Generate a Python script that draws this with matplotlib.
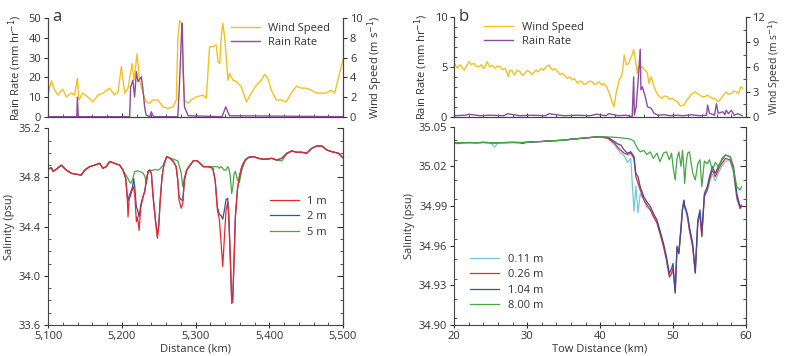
import matplotlib
matplotlib.use("Agg")
import matplotlib.pyplot as plt
from matplotlib.ticker import MultipleLocator, FuncFormatter

plt.rcParams['font.family'] = ['Open Sans', 'DejaVu Sans']
plt.rcParams['font.size'] = 8
TXT = '#333333'
plt.rcParams['text.color'] = TXT
plt.rcParams['axes.labelcolor'] = TXT
plt.rcParams['xtick.color'] = TXT
plt.rcParams['ytick.color'] = TXT
plt.rcParams['axes.edgecolor'] = '#444444'
plt.rcParams['axes.linewidth'] = 0.8

C_WIND = '#F5C11E'
C_RAIN = '#8E4C9F'
C_RED = '#E52A2F'
C_BLUE = '#3D4E9E'
C_GREEN = '#45A844'
C_CYAN = '#72C8DA'

# ---------------- Panel a data ----------------
a_wind_km = [5100, 5104.5, 5109, 5113.6, 5120, 5125, 5131.6, 5136, 5139.8, 5142, 5147, 5154, 5161, 5168,
             5174.6, 5183.6, 5190, 5195, 5199.4, 5204, 5208.5, 5214, 5216.6, 5220.7, 5224, 5228.8, 5233,
             5238, 5242, 5249, 5256, 5262.7, 5269.5, 5274, 5276, 5278.5, 5281, 5283, 5285, 5290, 5294,
             5301, 5310, 5314.7, 5319, 5323.7, 5328, 5330.5, 5332.8, 5335, 5337, 5339.5, 5344, 5346, 5351,
             5355, 5362, 5369, 5375.7, 5382.5, 5389, 5393.8, 5398, 5402.8, 5409.6, 5416, 5423, 5430,
             5436.7, 5443.5, 5450, 5457, 5464, 5470.6, 5477, 5484, 5488.7, 5493, 5500]
a_wind = [2.2, 3.66, 2.7, 2.2, 2.8, 2.0, 2.4, 2.2, 3.9, 1.7, 2.4, 2.0, 1.5, 2.2,
          2.4, 2.9, 2.2, 2.5, 5.1, 2.4, 2.9, 5.4, 3.7, 6.4, 3.7, 2.4, 1.5,
          1.36, 1.7, 1.7, 1.0, 0.85, 1.0, 1.7, 7.8, 9.76, 9.5, 5.1, 1.7, 1.36, 1.7,
          2.0, 2.2, 1.9, 7.1, 7.1, 7.3, 5.6, 5.4, 8.1, 9.5, 8.1, 3.7, 4.4, 3.7,
          3.6, 3.05, 1.5, 2.4, 3.2, 3.7, 4.3, 3.9, 2.7, 1.7, 1.7, 1.5, 2.4,
          3.1, 2.9, 2.9, 2.7, 2.4, 2.4, 2.4, 2.7, 2.4, 3.7, 5.8]

a_rain_km = [5100, 5139, 5139.8, 5141, 5210.7, 5212, 5215, 5217.4, 5219.8, 5222, 5226.6, 5228.8, 5231,
             5233, 5238, 5240, 5243, 5276, 5278.3, 5280.8, 5282, 5283.2, 5285, 5290, 5336, 5341, 5346, 5500]
a_rain = [0, 0, 10, 0, 0, 15, 18.6, 10, 22.9, 17.8, 20.3, 13.5, 5,
          0.8, 0, 2.5, 0, 0, 17, 40.7, 47.5, 25, 5, 0.5, 0, 5, 0.5, 0]

a_sal_km = [5100, 5104.5, 5106.8, 5111.3, 5118, 5124.9, 5131.6, 5138.4, 5145.2, 5149.7, 5156.5, 5163.2, 5170,
            5174.5, 5179, 5183.6, 5190.4, 5197.2, 5201.7, 5205.4, 5207.6, 5208.5, 5209.9, 5212.1, 5214.4,
            5216.2, 5217.6, 5219.8, 5221.2, 5223.5, 5225.8, 5228.9, 5231.2, 5233.4, 5235.7, 5237.9, 5240.2,
            5242.4, 5245.6, 5248.3, 5250.2, 5251.9, 5254.6, 5257.4, 5261, 5265.5, 5270, 5273.7, 5275.9,
            5277.7, 5280.5, 5282.7, 5285, 5288.1, 5292.7, 5297.2, 5301.7, 5306.2, 5310.7, 5317.5, 5323.4,
            5326.6, 5329.7, 5332.4, 5334.7, 5336.9, 5338.7, 5341.4, 5343.7, 5345.1, 5346.9, 5349.1, 5350.5,
            5352.3, 5354.1, 5356.8, 5359.5, 5362.7, 5367.2, 5371.7, 5378.5, 5385.3, 5392.1, 5398.9, 5403.4,
            5410.2, 5417, 5423.7, 5430.5, 5437.3, 5444.1, 5450.8, 5457.6, 5464.4, 5471.2, 5478, 5484.7, 5493.8, 5500]
a_sal_1m = [34.867, 34.880, 34.850, 34.867, 34.900, 34.860, 34.834, 34.826, 34.820, 34.860, 34.888, 34.900, 34.915,
            34.875, 34.888, 34.930, 34.915, 34.900, 34.860, 34.790, 34.617, 34.480, 34.617, 34.660, 34.700,
            34.725, 34.660, 34.440, 34.480, 34.370, 34.560, 34.640, 34.685, 34.780, 34.850, 34.860, 34.830,
            34.640, 34.450, 34.305, 34.400, 34.590, 34.807, 34.915, 34.970, 34.956, 34.930, 34.888, 34.780,
            34.617, 34.550, 34.590, 34.780, 34.860, 34.900, 34.937, 34.937, 34.915, 34.888, 34.888, 34.875,
            34.780, 34.535, 34.455, 34.264, 34.075, 34.264, 34.535, 34.600, 34.480, 34.180, 33.776, 33.790,
            34.130, 34.480, 34.700, 34.807, 34.888, 34.942, 34.964, 34.970, 34.956, 34.948, 34.951, 34.956,
            34.942, 34.956, 34.997, 35.016, 35.005, 35.005, 34.997, 35.037, 35.056, 35.056, 35.024, 35.010, 34.997, 34.960]
a_sal_2m = [34.867, 34.880, 34.850, 34.867, 34.900, 34.860, 34.834, 34.826, 34.820, 34.860, 34.888, 34.900, 34.915,
            34.875, 34.888, 34.930, 34.915, 34.900, 34.860, 34.790, 34.640, 34.610, 34.650, 34.680, 34.720,
            34.790, 34.720, 34.560, 34.540, 34.480, 34.580, 34.650, 34.690, 34.780, 34.850, 34.860, 34.830,
            34.660, 34.460, 34.330, 34.420, 34.600, 34.807, 34.915, 34.970, 34.956, 34.930, 34.888, 34.780,
            34.640, 34.620, 34.610, 34.780, 34.860, 34.900, 34.937, 34.937, 34.915, 34.888, 34.888, 34.875,
            34.780, 34.560, 34.500, 34.490, 34.460, 34.520, 34.620, 34.630, 34.490, 34.200, 33.800, 33.820,
            34.150, 34.490, 34.700, 34.807, 34.888, 34.942, 34.964, 34.970, 34.956, 34.948, 34.951, 34.956,
            34.942, 34.956, 34.997, 35.016, 35.005, 35.005, 34.997, 35.037, 35.056, 35.056, 35.024, 35.010, 34.997, 34.960]
a_sal_5m = [34.867, 34.880, 34.850, 34.867, 34.900, 34.860, 34.834, 34.826, 34.820, 34.860, 34.888, 34.900, 34.915,
            34.875, 34.888, 34.930, 34.915, 34.900, 34.860, 34.820, 34.800, 34.790, 34.770, 34.753, 34.780,
            34.820, 34.850, 34.850, 34.855, 34.850, 34.845, 34.835, 34.810, 34.753, 34.850, 34.860, 34.855,
            34.860, 34.865, 34.860, 34.862, 34.870, 34.890, 34.905, 34.970, 34.956, 34.950, 34.940, 34.935,
            34.900, 34.840, 34.725, 34.800, 34.860, 34.900, 34.937, 34.937, 34.915, 34.888, 34.888, 34.888,
            34.888, 34.888, 34.875, 34.888, 34.875, 34.860, 34.860, 34.888, 34.875, 34.820, 34.670, 34.720,
            34.830, 34.850, 34.780, 34.760, 34.860, 34.935, 34.960, 34.970, 34.956, 34.948, 34.951, 34.956,
            34.940, 34.935, 34.990, 35.016, 35.005, 35.005, 34.997, 35.037, 35.056, 35.056, 35.024, 35.010, 34.997, 34.960]

# ---------------- Panel b data ----------------
b_wind_km = [20, 20.25, 20.45, 20.7, 20.9, 21.1, 21.35, 21.6, 22, 22.3, 22.7, 23.0, 23.4, 23.7, 24.0, 24.25,
             24.5, 24.7, 24.9, 25.2, 25.6, 25.9, 26.3, 26.6, 27, 27.2, 27.4, 27.6, 27.9, 28.1, 28.3, 28.6,
             29, 29.3, 29.7, 30.0, 30.3, 30.7, 31.2, 31.5, 31.9, 32.2, 32.6, 33, 33.2, 33.5, 33.8, 34.2,
             34.5, 34.8, 35.1, 35.5, 35.8, 36.2, 36.5, 36.9, 37.2, 37.5, 37.8, 38.2, 38.5, 38.9, 39.2,
             39.55, 39.9, 40.2, 40.5, 40.9, 41.35, 41.7, 41.9, 42.2, 42.6, 42.9, 43.1, 43.3, 43.6, 43.9,
             44.1, 44.3, 44.6, 44.85, 45.1, 45.25, 45.5, 45.8, 46.0, 46.2, 46.5, 46.7, 47, 47.4, 47.8,
             48.1, 48.5, 48.8, 49.2, 49.5, 49.9, 50.2, 50.6, 51, 51.5, 51.9, 52.2, 52.4, 52.7, 53, 53.3,
             53.7, 54.0, 54.4, 54.7, 55.05, 55.4, 55.7, 56.2, 56.6, 57.0, 57.3, 57.6, 58, 58.3, 58.65, 59.0,
             59.3, 59.55]
b_wind = [6.44, 6.10, 5.84, 6.20, 6.25, 5.90, 5.64, 6.00, 6.65, 6.30, 6.44, 6.10, 6.04, 6.30, 5.80, 6.10,
          6.65, 6.30, 6.04, 6.20, 5.84, 6.10, 6.04, 5.70, 5.84, 5.40, 4.83, 5.50, 5.64, 5.20, 5.03, 5.60,
          5.44, 5.00, 5.24, 5.60, 5.44, 5.10, 5.64, 5.40, 5.84, 5.60, 6.04, 6.24, 5.90, 5.64, 5.80, 5.44,
          5.10, 5.24, 5.00, 4.63, 4.80, 4.43, 4.60, 4.03, 4.30, 4.23, 3.90, 4.03, 4.30, 4.23, 3.90,
          4.03, 4.20, 3.83, 4.00, 3.62, 2.62, 1.61, 1.21, 2.82, 4.43, 4.83, 5.60, 7.45, 6.24, 6.44,
          6.90, 7.25, 8.10, 6.85, 5.24, 6.04, 5.84, 6.04, 5.70, 5.64, 5.24, 4.00, 4.83, 3.62, 2.82,
          2.42, 2.22, 2.50, 2.42, 2.10, 2.22, 2.00, 1.81, 1.29, 1.41, 2.01, 2.30, 2.62, 2.80, 3.02, 2.80,
          2.62, 2.40, 2.42, 2.60, 2.42, 2.20, 2.22, 1.81, 2.22, 2.70, 3.02, 2.70, 2.82, 3.10, 3.02, 2.80,
          3.62, 3.42]

b_rain_km = [20, 21.5, 22.0, 23.5, 25.0, 26.8, 27.3, 29.0, 30.5, 32.5, 33.0, 35.0, 37.0, 38.6, 39.5, 40.8,
             41.2, 42.5, 43.5, 44.4, 44.6, 44.7, 44.95, 45.25, 45.5, 45.6, 45.8, 46.2, 46.5, 47, 47.4, 47.9,
             48.8, 49.6, 50.5, 51.4, 52.5, 53.6, 54.6, 54.74, 55, 55.7, 55.95, 56.2, 56.85, 57.1, 57.3, 57.6,
             58, 58.4, 58.9, 59.5]
b_rain = [0.1, 0.15, 0.25, 0.1, 0.15, 0.1, 0.3, 0.1, 0.15, 0.1, 0.3, 0.1, 0.15, 0.1, 0.25, 0.1,
          0.3, 0.1, 0.15, 0.0, 4.0, 0.15, 1.0, 4.0, 6.8, 2.7, 3.0, 2.0, 1.0, 0.85, 0.35, 0.15,
          0.2, 0.1, 0.15, 0.1, 0.2, 0.1, 0.15, 1.17, 0.35, 0.15, 1.3, 0.35, 0.5, 0.2, 0.65, 0.3,
          0.65, 0.15, 0.3, 0.1]

b_sal_km = [20, 20.5, 21, 22, 23, 24, 25, 25.5, 26, 27, 28, 29, 29.3, 30, 31, 32, 33, 34, 35, 36, 37, 38,
            39, 40, 41.1, 42.0, 42.4, 42.85, 43.3, 43.75, 44.2, 44.65, 44.9, 45.2, 45.5, 46.0, 46.4, 46.9,
            47.3, 47.8, 48.2, 48.7, 49.1, 49.5, 49.8, 50.0, 50.3, 50.55, 50.8, 51.1, 51.3, 51.5, 51.6, 51.8,
            52.0, 52.25, 52.7, 53.05, 53.4, 53.7, 53.95, 54.3, 54.7, 55.0, 55.4, 55.8, 56.3, 56.7, 57.2,
            57.85, 58.3, 58.75, 59.2, 59.4]
b_sal_011 = [35.0379, 35.0370, 35.0378, 35.0380, 35.0379, 35.0381, 35.0378, 35.0345, 35.0378, 35.0380,
             35.0381, 35.0380, 35.0380, 35.0382, 35.0386, 35.0388, 35.0393, 35.0395, 35.0398, 35.0405,
             35.0410, 35.0415, 35.0420, 35.0424, 35.0410, 35.0360, 35.0330, 35.0300, 35.0280, 35.0230,
             35.0260, 34.9860, 35.0050, 34.9850, 34.9990, 34.9950, 34.9890, 34.9870, 34.9830, 34.9780,
             34.9700, 34.9600, 34.9500, 34.9360, 34.9380, 34.9420, 34.9260, 34.9600, 34.9560, 34.9750,
             34.9880, 34.9935, 34.9880, 34.9850, 34.9800, 34.9720, 34.9590, 34.9400, 34.9780, 34.9850,
             34.9670, 34.9980, 35.0020, 35.0080, 35.0140, 35.0090, 35.0160, 35.0200, 35.0240, 35.0240,
             35.0150, 34.9950, 34.9890, 34.9900]
b_sal_026 = [35.0379, 35.0378, 35.0379, 35.0380, 35.0379, 35.0381, 35.0379, 35.0378, 35.0379, 35.0380,
             35.0381, 35.0380, 35.0372, 35.0382, 35.0386, 35.0388, 35.0393, 35.0395, 35.0398, 35.0405,
             35.0410, 35.0415, 35.0420, 35.0424, 35.0412, 35.0375, 35.0345, 35.0320, 35.0299, 35.0290,
             35.0300, 35.0261, 35.0122, 35.0071, 35.0021, 34.9945, 34.9910, 34.9870, 34.9820, 34.9770,
             34.9693, 34.9592, 34.9491, 34.9365, 34.9390, 34.9430, 34.9250, 34.9590, 34.9540, 34.9718,
             34.9870, 34.9940, 34.9900, 34.9870, 34.9820, 34.9718, 34.9592, 34.9390, 34.9769, 34.9844,
             34.9668, 34.9970, 35.0021, 35.0097, 35.0173, 35.0122, 35.0185, 35.0223, 35.0261, 35.0248,
             35.0172, 34.9970, 34.9880, 34.9895]
b_sal_104 = [35.0379, 35.0378, 35.0379, 35.0380, 35.0379, 35.0381, 35.0379, 35.0378, 35.0379, 35.0380,
             35.0381, 35.0380, 35.0380, 35.0382, 35.0386, 35.0388, 35.0393, 35.0395, 35.0398, 35.0405,
             35.0410, 35.0415, 35.0420, 35.0424, 35.0418, 35.0386, 35.0370, 35.0361, 35.0324, 35.0299,
             35.0311, 35.0273, 35.0147, 35.0122, 35.0046, 34.9970, 34.9932, 34.9895, 34.9845, 34.9794,
             34.9718, 34.9617, 34.9517, 34.9390, 34.9428, 34.9466, 34.9240, 34.9592, 34.9542, 34.9743,
             34.9880, 34.9945, 34.9900, 34.9870, 34.9830, 34.9743, 34.9617, 34.9403, 34.9794, 34.9870,
             34.9693, 34.9995, 35.0046, 35.0122, 35.0198, 35.0147, 35.0210, 35.0248, 35.0286, 35.0273,
             35.0198, 34.9995, 34.9895, 34.9908]
b_sal_800 = [35.0379, 35.0378, 35.0379, 35.0380, 35.0379, 35.0381, 35.0379, 35.0378, 35.0379, 35.0380,
             35.0381, 35.0380, 35.0380, 35.0382, 35.0386, 35.0388, 35.0393, 35.0395, 35.0398, 35.0405,
             35.0410, 35.0415, 35.0420, 35.0424, 35.0422, 35.0420, 35.0418, 35.0416, 35.0412, 35.0410,
             35.0405, 35.0390, 35.0360, 35.0330, 35.0310, 35.0320, 35.0290, 35.0310, 35.0260, 35.0300,
             35.0235, 35.0300, 35.0310, 35.0250, 35.0300, 35.0200, 35.0097, 35.0260, 35.0310, 35.0200,
             35.0320, 35.0180, 35.0070, 35.0220, 35.0300, 35.0310, 35.0150, 35.0097, 35.0220, 35.0250,
             35.0046, 35.0240, 35.0220, 35.0250, 35.0170, 35.0230, 35.0190, 35.0260, 35.0286, 35.0270,
             35.0180, 35.0046, 35.0020, 35.0046]

# ---------------- Figure ----------------
fig = plt.figure(figsize=(7.86, 3.56), dpi=100)


def style_top(ax, ax2):
    ax.spines['top'].set_visible(False)
    ax2.spines['top'].set_visible(False)
    ax.tick_params(axis='x', which='both', labelbottom=False, direction='in')
    ax.tick_params(axis='x', which='major', length=3)
    ax.tick_params(axis='x', which='minor', length=2)
    ax.tick_params(axis='y', which='major', direction='out', length=3, pad=2)
    ax.tick_params(axis='y', which='minor', direction='in', length=2)
    ax2.tick_params(axis='y', which='major', direction='out', length=3, pad=2)
    ax2.tick_params(axis='y', which='minor', direction='in', length=2)
    ax.set_zorder(ax2.get_zorder() + 1)
    ax.patch.set_visible(False)


def style_bottom(ax):
    ax.spines['top'].set_visible(False)
    ax.tick_params(axis='y', which='major', direction='out', length=3, pad=2, right=False)
    ax.tick_params(axis='y', which='minor', direction='in', length=2)
    ax.tick_params(axis='x', which='major', direction='inout', length=5, pad=2)
    ax.tick_params(axis='x', which='minor', direction='in', length=2)
    axr = ax.secondary_yaxis('right')
    axr.tick_params(axis='y', which='major', direction='in', length=4, labelright=False)
    axr.tick_params(axis='y', which='minor', direction='in', length=2)
    return axr


# ---- Panel a top ----
axa = fig.add_axes([0.0611, 0.6722, 0.3753, 0.2764])
axa2 = axa.twinx()
style_top(axa, axa2)
lw_a, = axa2.plot(a_wind_km, a_wind, color=C_WIND, lw=1.0)
lr_a, = axa.plot(a_rain_km, a_rain, color=C_RAIN, lw=1.0)
axa.set_xlim(5100, 5500)
axa.set_ylim(0, 50)
axa2.set_ylim(0, 10)
axa.set_yticks([0, 10, 20, 30, 40, 50])
axa2.set_yticks([0, 2, 4, 6, 8, 10])
axa.xaxis.set_major_locator(MultipleLocator(100))
axa.set_ylabel('Rain Rate (mm hr$^{-1}$)', labelpad=3)
axa2.set_ylabel('Wind Speed (m s$^{-1}$)', labelpad=2)
axa.legend([lw_a, lr_a], ['Wind Speed', 'Rain Rate'], loc='upper right', bbox_to_anchor=(0.98, 1.02),
           frameon=False, handlelength=2.6, fontsize=8, borderaxespad=0.2, labelspacing=0.3)
fig.text(0.066, 0.975, 'a', fontsize=12, va='top', ha='left')

# ---- Panel a bottom ----
axs = fig.add_axes([0.0611, 0.0871, 0.3753, 0.5525])
axsr = style_bottom(axs)
axs.plot(a_sal_km, a_sal_5m, color=C_GREEN, lw=0.9, label='5 m')
axs.plot(a_sal_km, a_sal_2m, color=C_BLUE, lw=0.9, label='2 m')
axs.plot(a_sal_km, a_sal_1m, color=C_RED, lw=0.9, label='1 m')
axs.set_xlim(5100, 5500)
axs.set_ylim(33.6, 35.2)
axs.set_yticks([33.6, 34.0, 34.4, 34.8, 35.2])
axs.yaxis.set_minor_locator(MultipleLocator(0.1))
axsr.set_yticks([33.6, 34.0, 34.4, 34.8, 35.2])
axsr.yaxis.set_minor_locator(MultipleLocator(0.1))
axs.xaxis.set_major_locator(MultipleLocator(100))
axs.xaxis.set_minor_locator(MultipleLocator(20))
axa.xaxis.set_minor_locator(MultipleLocator(20))
axs.xaxis.set_major_formatter(FuncFormatter(lambda v, p: f'{int(v):,}'))
axs.yaxis.set_major_formatter(FuncFormatter(lambda v, p: f'{v:.1f}'))
axs.set_xlabel('Distance (km)', labelpad=1)
axs.set_ylabel('Salinity (psu)', labelpad=3)
h = axs.get_legend_handles_labels()[0]
axs.legend([h[2], h[1], h[0]], ['1 m', '2 m', '5 m'], loc='center right', bbox_to_anchor=(0.98, 0.55),
           frameon=False, handlelength=2.6, fontsize=8, labelspacing=0.4)

# ---- Panel b top ----
B_LEFT, B_W = 0.578, 0.371
axb = fig.add_axes([B_LEFT, 0.6722, B_W, 0.2790])
axb2 = axb.twinx()
style_top(axb, axb2)
lw_b, = axb2.plot(b_wind_km, b_wind, color=C_WIND, lw=1.0)
lr_b, = axb.plot(b_rain_km, b_rain, color=C_RAIN, lw=1.0)
axb.set_xlim(20, 60)
axb.set_ylim(0, 10)
axb2.set_ylim(0, 12)
axb.set_yticks([0, 5, 10])
axb.yaxis.set_minor_locator(MultipleLocator(1))
axb2.set_yticks([0, 3, 6, 9, 12])
axb2.yaxis.set_minor_locator(MultipleLocator(1.5))
axb2.tick_params(axis='y', which='major', pad=1.5)
axb.xaxis.set_major_locator(MultipleLocator(10))
axb.xaxis.set_minor_locator(MultipleLocator(2))
axb.set_ylabel('Rain Rate (mm hr$^{-1}$)', labelpad=3)
axb2.set_ylabel('Wind Speed (m s$^{-1}$)', labelpad=1, fontsize=7.5)
axb.legend([lw_b, lr_b], ['Wind Speed', 'Rain Rate'], loc='upper left', bbox_to_anchor=(0.08, 1.02),
           frameon=False, handlelength=2.6, fontsize=8, borderaxespad=0.2, labelspacing=0.3)
fig.text(0.583, 0.975, 'b', fontsize=12, va='top', ha='left')

# ---- Panel b bottom ----
axt = fig.add_axes([B_LEFT, 0.0871, B_W, 0.5570])
axtr = style_bottom(axt)
l11, = axt.plot(b_sal_km, b_sal_011, color=C_CYAN, lw=0.9)
l26, = axt.plot(b_sal_km, b_sal_026, color=C_RED, lw=0.9)
l104, = axt.plot(b_sal_km, b_sal_104, color=C_BLUE, lw=0.9)
l800, = axt.plot(b_sal_km, b_sal_800, color=C_GREEN, lw=0.9)
axt.set_xlim(20, 60)
axt.set_ylim(34.90, 35.05)
yt = [34.90, 34.93, 34.96, 34.99, 35.02, 35.05]
axt.set_yticks(yt)
axt.yaxis.set_minor_locator(MultipleLocator(0.015))
axtr.set_yticks(yt)
axtr.yaxis.set_minor_locator(MultipleLocator(0.015))
axt.yaxis.set_major_formatter(FuncFormatter(lambda v, p: f'{v:.2f}'))
axt.xaxis.set_major_locator(MultipleLocator(10))
axt.xaxis.set_minor_locator(MultipleLocator(2))
axt.set_xlabel('Tow Distance (km)', labelpad=1)
axt.set_ylabel('Salinity (psu)', labelpad=3)
axt.legend([l11, l26, l104, l800], ['0.11 m', '0.26 m', '1.04 m', '8.00 m'], loc='lower left',
           bbox_to_anchor=(0.02, 0.02), frameon=False, handlelength=2.6, fontsize=8, labelspacing=0.4)

fig.savefig('out.png', dpi=100)
